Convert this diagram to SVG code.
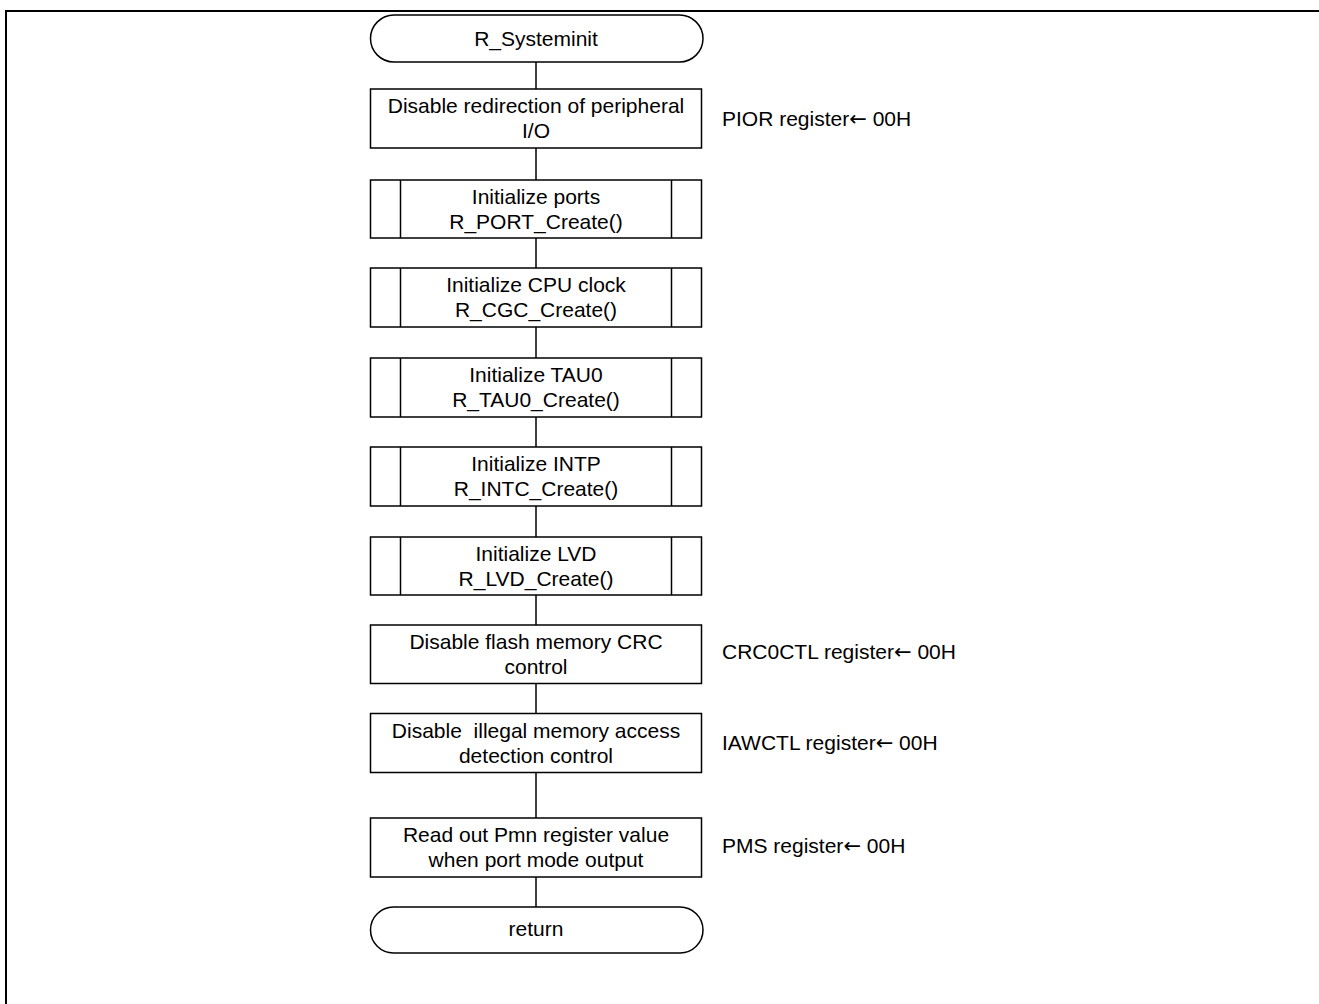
<svg xmlns="http://www.w3.org/2000/svg" width="1319" height="1004" viewBox="0 0 1319 1004">
<style>
  .shape { fill: #ffffff; stroke: #000000; stroke-width: 1.5; }
  .inner { stroke: #000000; stroke-width: 1.5; fill: none; }
  .conn { stroke: #000000; stroke-width: 1.5; fill: none; }
  text { font-family: "Liberation Sans", Arial, sans-serif; font-size: 21px; fill: #000000; }
  .c { text-anchor: middle; }
  .arr { font-family: "DejaVu Sans", sans-serif; }
</style>
<rect x="0" y="0" width="1319" height="1004" fill="#ffffff"/>
<rect x="6" y="11" width="1400" height="1100" fill="none" stroke="#000000" stroke-width="2"/>

<g id="connectors">
  <line class="conn" x1="536" y1="62" x2="536" y2="89"/>
  <line class="conn" x1="536" y1="148" x2="536" y2="180"/>
  <line class="conn" x1="536" y1="238" x2="536" y2="268"/>
  <line class="conn" x1="536" y1="327" x2="536" y2="358"/>
  <line class="conn" x1="536" y1="417" x2="536" y2="447"/>
  <line class="conn" x1="536" y1="506" x2="536" y2="537"/>
  <line class="conn" x1="536" y1="595" x2="536" y2="625"/>
  <line class="conn" x1="536" y1="683.5" x2="536" y2="713.5"/>
  <line class="conn" x1="536" y1="772.5" x2="536" y2="818"/>
  <line class="conn" x1="536" y1="877" x2="536" y2="907"/>
</g>

<g id="start">
  <rect class="shape" x="370.5" y="15" width="332.5" height="47" rx="23.5" ry="23.5"/>
  <text class="c" x="536" y="46">R_Systeminit</text>
</g>

<g id="disable-pior">
  <rect class="shape" x="370.5" y="89" width="331" height="59"/>
  <text class="c" x="536" y="113">Disable redirection of peripheral</text>
  <text class="c" x="536" y="138">I/O</text>
  <text x="722" y="126">PIOR register<tspan class="arr">←</tspan> 00H</text>
</g>

<g id="init-ports">
  <rect class="shape" x="370.5" y="180" width="331" height="58"/>
  <line class="inner" x1="400.5" y1="180" x2="400.5" y2="238"/>
  <line class="inner" x1="671.5" y1="180" x2="671.5" y2="238"/>
  <text class="c" x="536" y="204">Initialize ports</text>
  <text class="c" x="536" y="229">R_PORT_Create()</text>
</g>

<g id="init-cgc">
  <rect class="shape" x="370.5" y="268" width="331" height="59"/>
  <line class="inner" x1="400.5" y1="268" x2="400.5" y2="327"/>
  <line class="inner" x1="671.5" y1="268" x2="671.5" y2="327"/>
  <text class="c" x="536" y="292">Initialize CPU clock</text>
  <text class="c" x="536" y="317">R_CGC_Create()</text>
</g>

<g id="init-tau0">
  <rect class="shape" x="370.5" y="358" width="331" height="59"/>
  <line class="inner" x1="400.5" y1="358" x2="400.5" y2="417"/>
  <line class="inner" x1="671.5" y1="358" x2="671.5" y2="417"/>
  <text class="c" x="536" y="382">Initialize TAU0</text>
  <text class="c" x="536" y="407">R_TAU0_Create()</text>
</g>

<g id="init-intc">
  <rect class="shape" x="370.5" y="447" width="331" height="59"/>
  <line class="inner" x1="400.5" y1="447" x2="400.5" y2="506"/>
  <line class="inner" x1="671.5" y1="447" x2="671.5" y2="506"/>
  <text class="c" x="536" y="471">Initialize INTP</text>
  <text class="c" x="536" y="496">R_INTC_Create()</text>
</g>

<g id="init-lvd">
  <rect class="shape" x="370.5" y="537" width="331" height="58"/>
  <line class="inner" x1="400.5" y1="537" x2="400.5" y2="595"/>
  <line class="inner" x1="671.5" y1="537" x2="671.5" y2="595"/>
  <text class="c" x="536" y="561">Initialize LVD</text>
  <text class="c" x="536" y="586">R_LVD_Create()</text>
</g>

<g id="disable-crc">
  <rect class="shape" x="370.5" y="625" width="331" height="58.5"/>
  <text class="c" x="536" y="649">Disable flash memory CRC</text>
  <text class="c" x="536" y="674">control</text>
  <text x="722" y="659">CRC0CTL register<tspan class="arr">←</tspan> 00H</text>
</g>

<g id="disable-iaw">
  <rect class="shape" x="370.5" y="713.5" width="331" height="59"/>
  <text class="c" x="536" y="737.5" xml:space="preserve">Disable  illegal memory access</text>
  <text class="c" x="536" y="762.5">detection control</text>
  <text x="722" y="750">IAWCTL register<tspan class="arr">←</tspan> 00H</text>
</g>

<g id="read-pms">
  <rect class="shape" x="370.5" y="818" width="331" height="59"/>
  <text class="c" x="536" y="842">Read out Pmn register value</text>
  <text class="c" x="536" y="867">when port mode output</text>
  <text x="722" y="853">PMS register<tspan class="arr">←</tspan> 00H</text>
</g>

<g id="return">
  <rect class="shape" x="370.5" y="907" width="332.5" height="46" rx="23" ry="23"/>
  <text class="c" x="536" y="936">return</text>
</g>
</svg>
